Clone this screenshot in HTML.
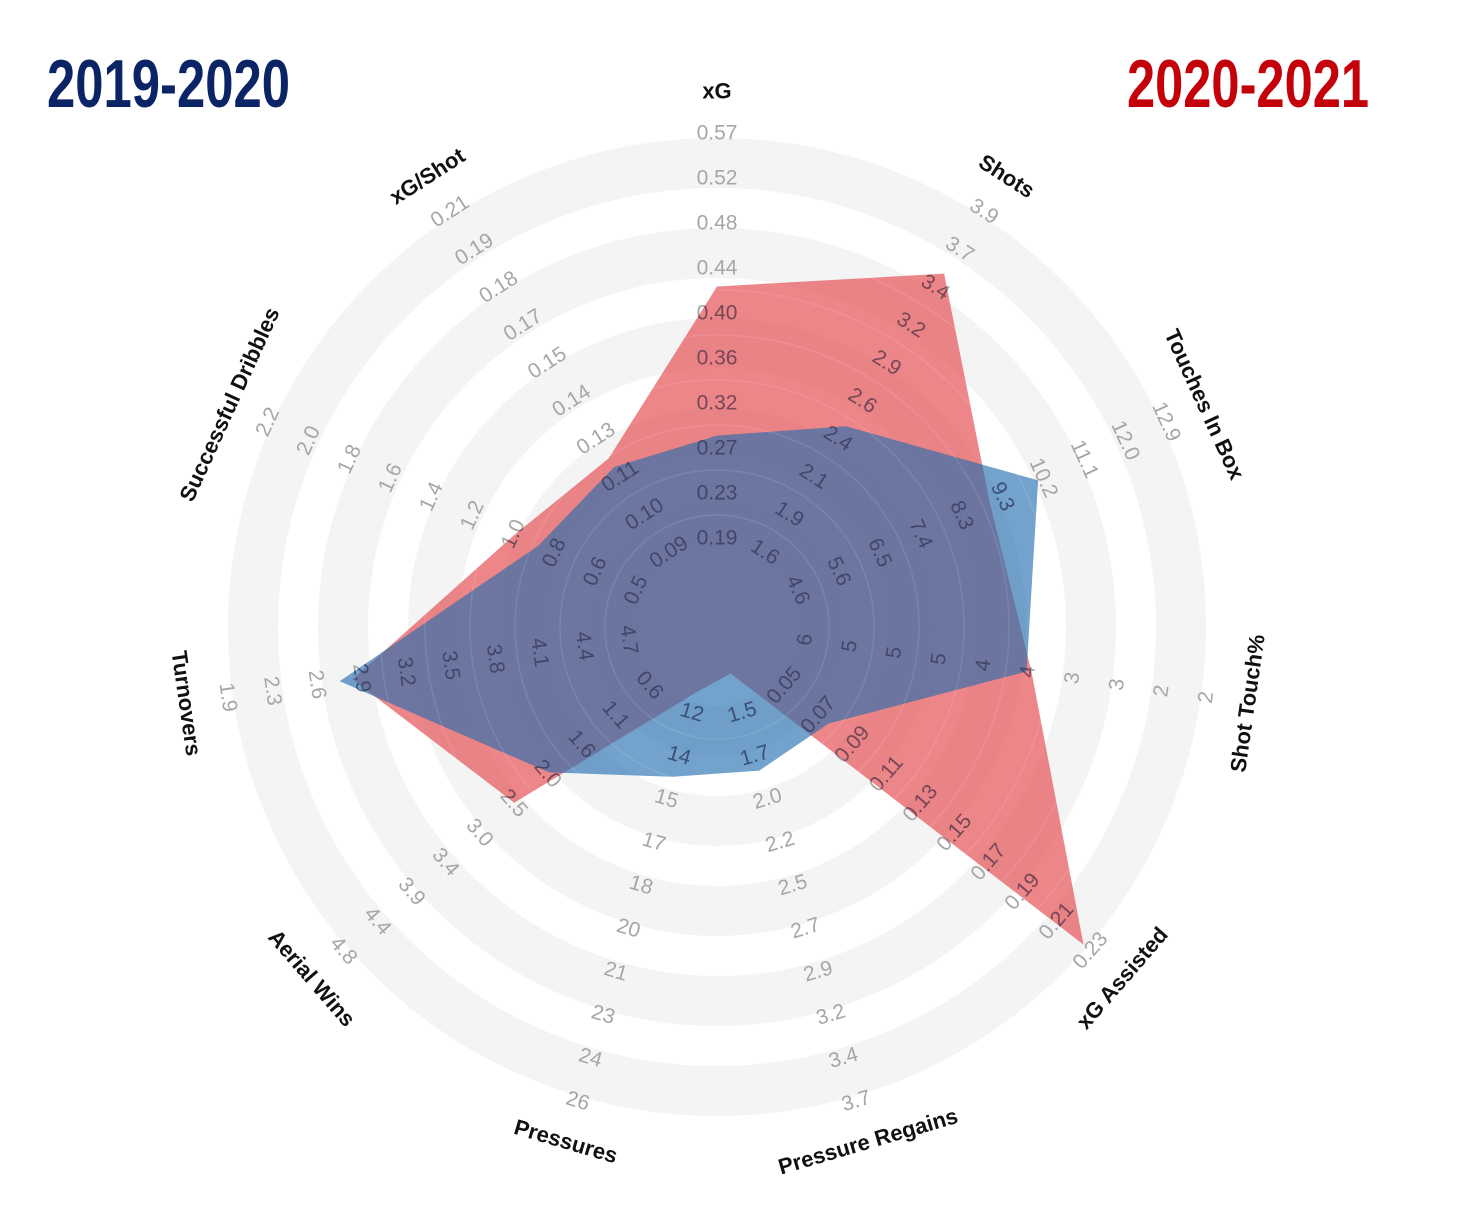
<!DOCTYPE html>
<html><head><meta charset="utf-8"><style>
html,body{margin:0;padding:0;background:#fff;}
svg{display:block;}
</style></head><body>
<svg id="chart" width="1460" height="1207" viewBox="0 0 1460 1207" xmlns="http://www.w3.org/2000/svg">
<defs><clipPath id="polyClip"></clipPath></defs>
<text x="47" y="107" font-family="Liberation Sans Narrow, Liberation Sans, sans-serif" font-weight="bold" font-size="68" fill="#0b2466" textLength="243" lengthAdjust="spacingAndGlyphs">2019-2020</text>
<text x="1127" y="107" font-family="Liberation Sans Narrow, Liberation Sans, sans-serif" font-weight="bold" font-size="68" fill="#c4000a" textLength="242" lengthAdjust="spacingAndGlyphs">2020-2021</text>
<g id="rings"></g><g id="ticks"></g><g id="polys"></g><g id="ticksTop" clip-path="url(#polyClip)"></g><g id="cats"></g>
</svg>
<script>
const categories = ["xG","Shots","Touches In Box","Shot Touch%","xG Assisted","Pressure Regains","Pressures","Aerial Wins","Turnovers","Successful Dribbles","xG/Shot"];
const axisMin = [0.19,1.6,4.6,6,0.05,1.5,12,0.6,4.7,0.5,0.09];
const axisMax = [0.57,3.9,12.9,2,0.23,3.7,26,4.8,1.9,2.2,0.21];
const tickLabels = [
 ["0.19","0.23","0.27","0.32","0.36","0.40","0.44","0.48","0.52","0.57"],
 ["1.6","1.9","2.1","2.4","2.6","2.9","3.2","3.4","3.7","3.9"],
 ["4.6","5.6","6.5","7.4","8.3","9.3","10.2","11.1","12.0","12.9"],
 ["6","5","5","5","4","4","3","3","2","2"],
 ["0.05","0.07","0.09","0.11","0.13","0.15","0.17","0.19","0.21","0.23"],
 ["1.5","1.7","2.0","2.2","2.5","2.7","2.9","3.2","3.4","3.7"],
 ["12","14","15","17","18","20","21","23","24","26"],
 ["0.6","1.1","1.6","2.0","2.5","3.0","3.4","3.9","4.4","4.8"],
 ["4.7","4.4","4.1","3.8","3.5","3.2","2.9","2.6","2.3","1.9"],
 ["0.5","0.6","0.8","1.0","1.2","1.4","1.6","1.8","2.0","2.2"],
 ["0.09","0.10","0.11","0.13","0.14","0.15","0.17","0.18","0.19","0.21"]
];
const season2021 = [0.426,3.48,8.92,3.74,0.226,1.28,11.24,2.46,2.77,1.06,0.123];
const season1920 = [0.286,2.45,10.01,3.79,0.076,1.83,14.32,1.98,2.68,0.95,0.12];

const NS="http://www.w3.org/2000/svg";
const cx=717, cy=627, r0=89, r9=494, catR=536;
function ang(k){return k*2*Math.PI/categories.length;}
function rScale(k,v){return r0+(v-axisMin[k])/(axisMax[k]-axisMin[k])*(r9-r0);}
function pt(k,r){const a=ang(k);return [cx+r*Math.sin(a), cy-r*Math.cos(a)];}
function rotFor(k){let d=k*360/categories.length; if(d>90&&d<270) d-=180; return d;}
function mk(tag,attrs,parent){const e=document.createElementNS(NS,tag);for(const a in attrs)e.setAttribute(a,attrs[a]);parent.appendChild(e);return e;}

const rings=document.getElementById('rings');
const bands=[[439,489],[349,399],[259,309],[169,219],[79,129]];
bands.forEach((b,i)=>{
  const c=mk('circle',{cx:cx,cy:cy,r:(b[0]+b[1])/2,fill:'none',stroke:'#f4f4f4','stroke-width':b[1]-b[0]},rings);
  
  
});
const hole=mk('circle',{cx:cx,cy:cy,r:45,fill:'none',stroke:'#eeeeee','stroke-width':1.5},rings);



function drawTicks(g,color,named){
  tickLabels.forEach((labs,k)=>{
    labs.forEach((t,i)=>{
      const p=pt(k,r0+i*(r9-r0)/9);
      const e=mk('text',{x:p[0],y:p[1],'text-anchor':'middle','dominant-baseline':'central','font-family':'Liberation Sans, sans-serif','font-size':21,fill:color,transform:`rotate(${rotFor(k)} ${p[0]} ${p[1]})`},g);
      e.textContent=t;
      
      
    });
  });
}
drawTicks(document.getElementById('ticks'),'#a6a6a6');

const polys=document.getElementById('polys');
const clip=document.getElementById('polyClip');
function poly(vals,fill,op,name){
  const pts=vals.map((v,k)=>pt(k,rScale(k,v)).join(',')).join(' ');
  const e=mk('polygon',{points:pts,fill:fill,'fill-opacity':op},polys);
  
  
  mk('polygon',{points:pts},clip);
}
poly(season2021,'rgb(230,88,92)',0.72,'series-2020-2021');
poly(season1920,'rgb(33,110,176)',0.63,'series-2019-2020');
[1,2,3,4,5,6,7,8].forEach(i=>{
  const c=mk('circle',{cx:cx,cy:cy,r:r0+i*45-22,fill:'none',stroke:'rgba(255,255,255,0.1)','stroke-width':1.5},polys);
  
  
});
drawTicks(document.getElementById('ticksTop'),'rgba(40,40,70,0.55)');

const cats=document.getElementById('cats');
categories.forEach((c,k)=>{
  const p=pt(k,catR);
  const e=mk('text',{x:p[0],y:p[1],'text-anchor':'middle','dominant-baseline':'central','font-family':'Liberation Sans, sans-serif','font-weight':'bold','font-size':22,fill:'#111',transform:`rotate(${rotFor(k)} ${p[0]} ${p[1]})`},cats);
  e.textContent=c;
  
  
});
</script>
</body></html>
